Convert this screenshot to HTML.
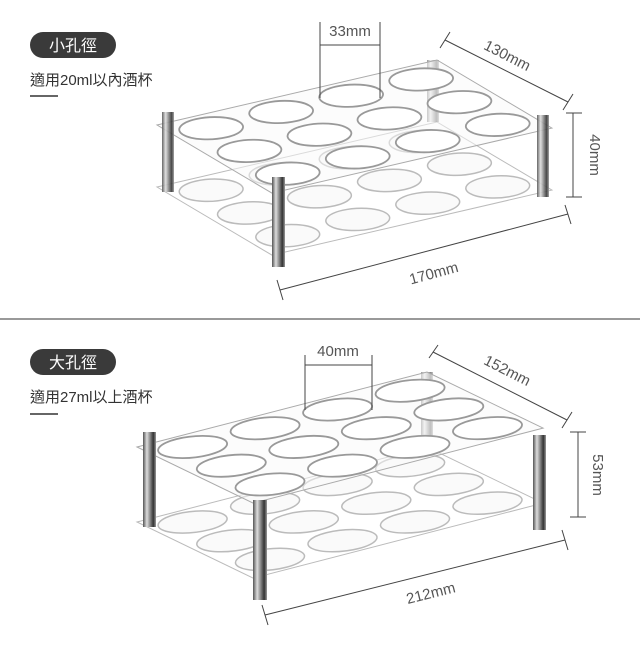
<!DOCTYPE html>
<html><head><meta charset="utf-8"><style>
body{margin:0;background:#fff;}
svg text{font-family:"Liberation Sans","Noto Sans CJK TC",sans-serif;}
</style></head><body>
<svg width="640" height="640" viewBox="0 0 640 640" xmlns="http://www.w3.org/2000/svg">
<defs>
<linearGradient id="steel" x1="0" x2="1" y1="0" y2="0">
<stop offset="0" stop-color="#555"/><stop offset="0.3" stop-color="#ddd"/><stop offset="0.55" stop-color="#888"/><stop offset="0.8" stop-color="#333"/><stop offset="1" stop-color="#999"/>
</linearGradient>
</defs>
<rect width="640" height="640" fill="#fff"/>
<line x1="0" y1="319" x2="640" y2="319" stroke="#999" stroke-width="2"/>

<rect x="30" y="32" width="86" height="26" rx="13" fill="#3a3a3a"/>
<text x="73" y="51" font-size="16" fill="#fff" text-anchor="middle">小孔徑</text>
<text x="30" y="85" font-size="15" fill="#333">適用20ml以內酒杯</text>
<line x1="30" y1="96" x2="58" y2="96" stroke="#333" stroke-width="1.5"/>
<rect x="30" y="349" width="86" height="26" rx="13" fill="#3a3a3a"/>
<text x="73" y="368" font-size="16" fill="#fff" text-anchor="middle">大孔徑</text>
<text x="30" y="402" font-size="15" fill="#333">適用27ml以上酒杯</text>
<line x1="30" y1="414" x2="58" y2="414" stroke="#333" stroke-width="1.5"/>

<!-- TOP RACK -->
<g>
 <g transform="matrix(70,-16.25,38.3,22.7,157,187)" fill="none" stroke="#bbb">
  <rect x="0" y="0" width="4" height="3" vector-effect="non-scaling-stroke"/>
  <g fill="#fafafa" stroke="#bbb" stroke-width="1.5">
   <circle cx="0.5" cy="0.5" r="0.4" vector-effect="non-scaling-stroke"/><circle cx="1.5" cy="0.5" r="0.4" vector-effect="non-scaling-stroke"/><circle cx="2.5" cy="0.5" r="0.4" vector-effect="non-scaling-stroke"/><circle cx="3.5" cy="0.5" r="0.4" vector-effect="non-scaling-stroke"/>
   <circle cx="0.5" cy="1.5" r="0.4" vector-effect="non-scaling-stroke"/><circle cx="1.5" cy="1.5" r="0.4" vector-effect="non-scaling-stroke"/><circle cx="2.5" cy="1.5" r="0.4" vector-effect="non-scaling-stroke"/><circle cx="3.5" cy="1.5" r="0.4" vector-effect="non-scaling-stroke"/>
   <circle cx="0.5" cy="2.5" r="0.4" vector-effect="non-scaling-stroke"/><circle cx="1.5" cy="2.5" r="0.4" vector-effect="non-scaling-stroke"/><circle cx="2.5" cy="2.5" r="0.4" vector-effect="non-scaling-stroke"/><circle cx="3.5" cy="2.5" r="0.4" vector-effect="non-scaling-stroke"/>
  </g>
 </g>
 <rect x="427" y="60" width="12" height="62" fill="url(#steel)" opacity="0.6"/>
 <g transform="matrix(70,-16.25,38.3,22.7,157,125)" fill="rgba(250,250,250,0.5)" stroke="#aaa">
  <rect x="0" y="0" width="4" height="3" vector-effect="non-scaling-stroke"/>
  <g fill="#fff" stroke="#999" stroke-width="1.8">
   <circle cx="0.5" cy="0.5" r="0.4" vector-effect="non-scaling-stroke"/><circle cx="1.5" cy="0.5" r="0.4" vector-effect="non-scaling-stroke"/><circle cx="2.5" cy="0.5" r="0.4" vector-effect="non-scaling-stroke"/><circle cx="3.5" cy="0.5" r="0.4" vector-effect="non-scaling-stroke"/>
   <circle cx="0.5" cy="1.5" r="0.4" vector-effect="non-scaling-stroke"/><circle cx="1.5" cy="1.5" r="0.4" vector-effect="non-scaling-stroke"/><circle cx="2.5" cy="1.5" r="0.4" vector-effect="non-scaling-stroke"/><circle cx="3.5" cy="1.5" r="0.4" vector-effect="non-scaling-stroke"/>
   <circle cx="0.5" cy="2.5" r="0.4" vector-effect="non-scaling-stroke"/><circle cx="1.5" cy="2.5" r="0.4" vector-effect="non-scaling-stroke"/><circle cx="2.5" cy="2.5" r="0.4" vector-effect="non-scaling-stroke"/><circle cx="3.5" cy="2.5" r="0.4" vector-effect="non-scaling-stroke"/>
  </g>
 </g>
 <rect x="272" y="177" width="13" height="90" fill="url(#steel)"/>
 <rect x="162" y="112" width="12" height="80" fill="url(#steel)" opacity="0.9"/>
 <rect x="537" y="115" width="12" height="82" fill="url(#steel)" opacity="0.9"/>
 <g stroke="#444" stroke-width="1" fill="none">
  <path d="M320 22V98M380 22V98M320 45H380"/>
  <path d="M445 40L568 102M440 48L450 32M563 110L573 94"/>
  <path d="M573 113V197M566 113H582M566 197H582"/>
  <path d="M280 290L568 214M277 280L283 300M565 205L571 224"/>
 </g>
 <g fill="#555" font-size="15">
  <text x="350" y="36" text-anchor="middle">33mm</text>
  <text transform="translate(505,60) rotate(27)" text-anchor="middle">130mm</text>
  <text transform="translate(590,155) rotate(90)" text-anchor="middle">40mm</text>
  <text transform="translate(435,278) rotate(-15)" text-anchor="middle">170mm</text>
 </g>
</g>

<!-- BOTTOM RACK -->
<g>
 <g transform="matrix(72.5,-18.75,38.7,18.7,137,522)" fill="none" stroke="#bbb">
  <rect x="0" y="0" width="4" height="3" vector-effect="non-scaling-stroke"/>
  <g fill="#fafafa" stroke="#bbb" stroke-width="1.5">
   <circle cx="0.5" cy="0.5" r="0.42" vector-effect="non-scaling-stroke"/><circle cx="1.5" cy="0.5" r="0.42" vector-effect="non-scaling-stroke"/><circle cx="2.5" cy="0.5" r="0.42" vector-effect="non-scaling-stroke"/><circle cx="3.5" cy="0.5" r="0.42" vector-effect="non-scaling-stroke"/>
   <circle cx="0.5" cy="1.5" r="0.42" vector-effect="non-scaling-stroke"/><circle cx="1.5" cy="1.5" r="0.42" vector-effect="non-scaling-stroke"/><circle cx="2.5" cy="1.5" r="0.42" vector-effect="non-scaling-stroke"/><circle cx="3.5" cy="1.5" r="0.42" vector-effect="non-scaling-stroke"/>
   <circle cx="0.5" cy="2.5" r="0.42" vector-effect="non-scaling-stroke"/><circle cx="1.5" cy="2.5" r="0.42" vector-effect="non-scaling-stroke"/><circle cx="2.5" cy="2.5" r="0.42" vector-effect="non-scaling-stroke"/><circle cx="3.5" cy="2.5" r="0.42" vector-effect="non-scaling-stroke"/>
  </g>
 </g>
 <rect x="421" y="372" width="12" height="75" fill="url(#steel)" opacity="0.6"/>
 <g transform="matrix(72.5,-18.75,38.7,18.7,137,447)" fill="rgba(250,250,250,0.5)" stroke="#aaa">
  <rect x="0" y="0" width="4" height="3" vector-effect="non-scaling-stroke"/>
  <g fill="#fff" stroke="#999" stroke-width="1.8">
   <circle cx="0.5" cy="0.5" r="0.42" vector-effect="non-scaling-stroke"/><circle cx="1.5" cy="0.5" r="0.42" vector-effect="non-scaling-stroke"/><circle cx="2.5" cy="0.5" r="0.42" vector-effect="non-scaling-stroke"/><circle cx="3.5" cy="0.5" r="0.42" vector-effect="non-scaling-stroke"/>
   <circle cx="0.5" cy="1.5" r="0.42" vector-effect="non-scaling-stroke"/><circle cx="1.5" cy="1.5" r="0.42" vector-effect="non-scaling-stroke"/><circle cx="2.5" cy="1.5" r="0.42" vector-effect="non-scaling-stroke"/><circle cx="3.5" cy="1.5" r="0.42" vector-effect="non-scaling-stroke"/>
   <circle cx="0.5" cy="2.5" r="0.42" vector-effect="non-scaling-stroke"/><circle cx="1.5" cy="2.5" r="0.42" vector-effect="non-scaling-stroke"/><circle cx="2.5" cy="2.5" r="0.42" vector-effect="non-scaling-stroke"/><circle cx="3.5" cy="2.5" r="0.42" vector-effect="non-scaling-stroke"/>
  </g>
 </g>
 <rect x="143" y="432" width="13" height="95" fill="url(#steel)"/>
 <rect x="533" y="435" width="13" height="95" fill="url(#steel)"/>
 <rect x="253" y="500" width="14" height="100" fill="url(#steel)"/>
 <g stroke="#444" stroke-width="1" fill="none">
  <path d="M305 355V410M372 355V410M305 365H372"/>
  <path d="M433 352L567 420M429 358L438 345M562 428L572 412"/>
  <path d="M578 432V517M570 432H586M570 517H586"/>
  <path d="M265 615L565 540M262 605L268 625M562 530L568 550"/>
 </g>
 <g fill="#555" font-size="15">
  <text x="338" y="356" text-anchor="middle">40mm</text>
  <text transform="translate(505,375) rotate(27)" text-anchor="middle">152mm</text>
  <text transform="translate(593,475) rotate(90)" text-anchor="middle">53mm</text>
  <text transform="translate(432,598) rotate(-14)" text-anchor="middle">212mm</text>
 </g>
</g>
</svg>
</body></html>
